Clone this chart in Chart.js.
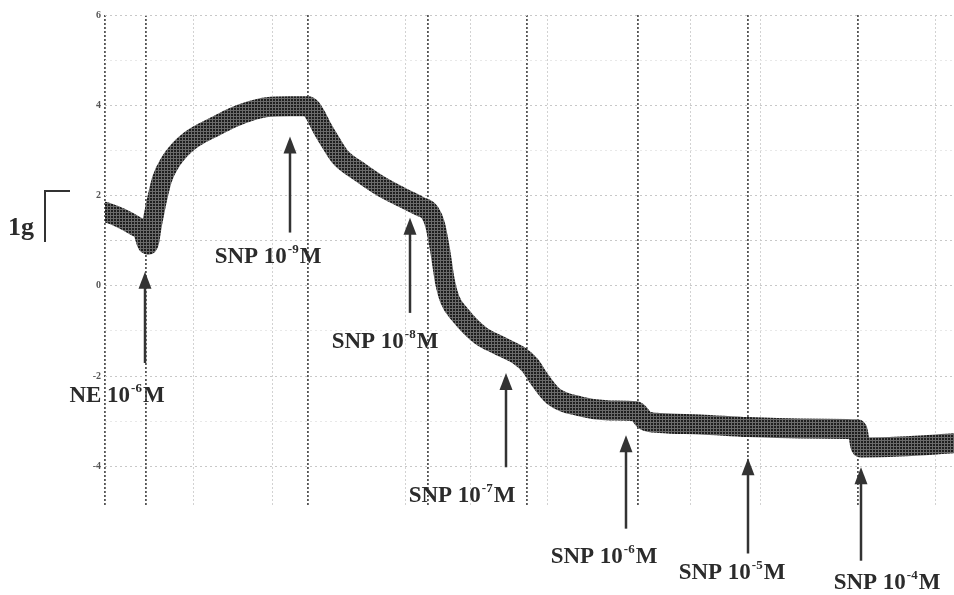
<!DOCTYPE html>
<html>
<head>
<meta charset="utf-8">
<script src="https://cdn.jsdelivr.net/npm/chart.js@4.4.1/dist/chart.umd.min.js"></script>
<style>
html, body { margin: 0; padding: 0; background: #fff; }
#wrap { width: 954px; height: 595px; }
</style>
</head>
<body>
<div id="wrap"><canvas id="trace"></canvas></div>
<script>
// recorder trace: time (paper units) and tension (g)
let time    = [0, 15, 30, 38, 43, 47, 52, 57, 65, 75, 85, 95, 110, 128, 145, 162, 185, 203,
               210, 217, 225, 235, 255, 275, 295, 315, 325, 330, 335, 340, 345, 355, 375, 395,
               415, 425, 435, 448, 475, 505, 531, 540, 555, 595, 643, 695, 752, 756, 795, 849];
let tension = [1.64, 1.51, 1.33, 1.20, 0.91, 1.36, 1.91, 2.36, 2.73, 3.02, 3.22, 3.36, 3.53, 3.73, 3.87, 3.96, 3.98, 3.98,
               3.80, 3.50, 3.20, 2.86, 2.52, 2.22, 1.98, 1.76, 1.62, 1.36, 0.80, 0.09, -0.31, -0.64, -1.09, -1.33,
               -1.56, -1.76, -2.09, -2.44, -2.67, -2.76, -2.78, -2.98, -3.04, -3.07, -3.13, -3.16, -3.18, -3.58, -3.56, -3.49];

let yTicks = [6, 5, 4, 3, 2, 1, 0, -1, -2, -3, -4];
let majorLines = [0, 41, 203, 323, 422, 533, 643, 753];
let minorLines = [88, 167, 300, 365, 442, 585, 655, 830];

// drug additions
let drugs     = ["NE", "SNP", "SNP", "SNP", "SNP", "SNP", "SNP"];
let exps      = ["-6", "-9", "-8", "-7", "-6", "-5", "-4"];
let arrowAt   = [40, 185, 305, 401, 521, 643, 756];
let arrowTip  = [0.31, 3.31, 1.51, -1.93, -3.31, -3.82, -4.02];
let arrowTail = [-1.71, 1.18, -0.60, -4.02, -5.38, -5.93, -6.09];
let labelAt   = [12, 163, 280, 357, 499, 627, 782];
let labelBase = [-2.58, 0.51, -1.38, -4.80, -6.13, -6.49, -6.71];

function halftone() {
    let c = document.createElement('canvas');
    c.width = 3; c.height = 3;
    let g = c.getContext('2d');
    g.fillStyle = '#6a6a6a'; g.fillRect(0, 0, 3, 3);
    g.fillStyle = '#1e1e1e'; g.fillRect(0, 0, 2, 2);
    return g.createPattern(c, 'repeat');
}

const SERIF = '"Liberation Serif", "Times New Roman", serif';

const marks = {
    id: 'marks',
    afterDatasetsDraw(chart) {
        const ctx = chart.ctx;
        const x = chart.scales.x, y = chart.scales.y;
        ctx.save();
        // 1 g scale bar
        let left = chart.chartArea.left;
        let bTop = y.getPixelForValue(2.1), bBot = y.getPixelForValue(0.97);
        ctx.strokeStyle = '#333';
        ctx.lineWidth = 2;
        ctx.beginPath();
        ctx.moveTo(left - 35, bTop); ctx.lineTo(left - 60, bTop); ctx.lineTo(left - 60, bBot);
        ctx.stroke();
        ctx.fillStyle = '#2b2b2b';
        ctx.font = 'bold 26px ' + SERIF;
        ctx.textAlign = 'left';
        ctx.textBaseline = 'alphabetic';
        ctx.fillText('1g', 8, y.getPixelForValue(1.13));

        for (let i = 0; i < drugs.length; i++) {
            let px = x.getPixelForValue(arrowAt[i]);
            let top = y.getPixelForValue(arrowTip[i]);
            let bot = y.getPixelForValue(arrowTail[i]);
            ctx.strokeStyle = '#333';
            ctx.lineWidth = 2.5;
            ctx.beginPath(); ctx.moveTo(px, top + 12); ctx.lineTo(px, bot); ctx.stroke();
            ctx.fillStyle = '#333';
            ctx.beginPath();
            ctx.moveTo(px, top); ctx.lineTo(px - 6.5, top + 17); ctx.lineTo(px + 6.5, top + 17);
            ctx.closePath(); ctx.fill();

            let base = drugs[i] + ' 10';
            ctx.font = 'bold 23px ' + SERIF;
            let w1 = ctx.measureText(base).width;
            let w3 = ctx.measureText('M').width;
            ctx.font = 'bold 13px ' + SERIF;
            let w2 = ctx.measureText(exps[i]).width;
            let total = w1 + w2 + w3 + 2;
            let lx = x.getPixelForValue(labelAt[i]) - total / 2;
            let ly = y.getPixelForValue(labelBase[i]);
            ctx.fillStyle = '#2b2b2b';
            ctx.font = 'bold 23px ' + SERIF;
            ctx.fillText(base, lx, ly);
            ctx.fillText('M', lx + w1 + w2 + 2, ly);
            ctx.font = 'bold 13px ' + SERIF;
            ctx.fillText(exps[i], lx + w1 + 1, ly - 10);
        }
        ctx.restore();
    }
};

const ctx = document.getElementById('trace');
const myChart = new Chart(ctx, {
    type: 'line',
    data: {
        datasets: [{
            data: time.map((t, i) => ({ x: t, y: tension[i] })),
            borderColor: halftone(),
            borderWidth: 20,
            borderJoinStyle: 'round',
            borderCapStyle: 'round',
            cubicInterpolationMode: 'monotone',
            pointRadius: 0,
            fill: false
        }]
    },
    options: {
        responsive: true,
        maintainAspectRatio: false,
        animation: false,
        devicePixelRatio: 1,
        layout: { padding: { left: 0, right: 0, top: 15, bottom: 88 } },
        plugins: { legend: { display: false }, tooltip: { enabled: false } },
        scales: {
            x: {
                type: 'linear',
                min: 0,
                max: 849,
                afterBuildTicks: (scale) => {
                    scale.ticks = majorLines.concat(minorLines).sort((a, b) => a - b).map(v => ({ value: v }));
                },
                afterFit: (scale) => { scale.height = 0; },
                ticks: { display: false },
                border: { display: false, dash: [2, 2] },
                grid: {
                    drawTicks: false,
                    color: (c) => majorLines.includes(c.tick.value) ? '#555' : '#d2d2d2',
                    lineWidth: (c) => majorLines.includes(c.tick.value) ? 1.8 : 1
                }
            },
            y: {
                min: -4.9,
                max: 6.0,
                afterBuildTicks: (scale) => {
                    scale.ticks = yTicks.map(v => ({ value: v }));
                },
                afterFit: (scale) => { scale.width = 105; },
                ticks: {
                    padding: 4,
                    color: '#555',
                    font: { size: 10, weight: 'bold', family: SERIF },
                    callback: (v) => (v % 2 === 0 ? String(v) : '')
                },
                border: { display: false, dash: [2, 3] },
                grid: {
                    drawTicks: false,
                    color: (c) => (c.tick.value % 2 === 0 || c.tick.value === 1 ? '#c8c8c8' : '#e8e8e8'),
                    lineWidth: 1
                }
            }
        }
    },
    plugins: [marks]
});
</script>
</body>
</html>
